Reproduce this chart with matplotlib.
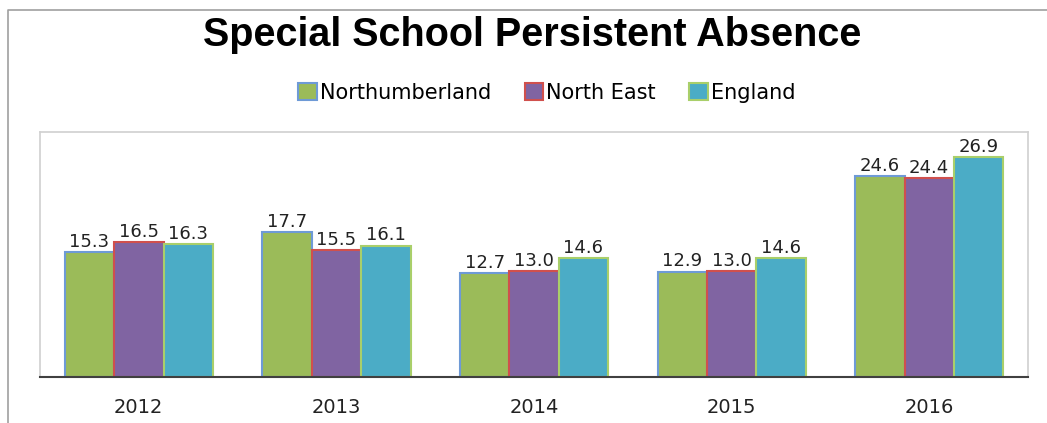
import matplotlib
matplotlib.use("Agg")
import matplotlib.pyplot as plt
import numpy as np
from matplotlib.patches import Patch
from matplotlib.lines import Line2D

# persistent absence rates (%) by year
years = ["2012", "2013", "2014", "2015", "2016"]
northumberland = [15.3, 17.7, 12.7, 12.9, 24.6]
north_east = [16.5, 15.5, 13.0, 13.0, 24.4]
england = [16.3, 16.1, 14.6, 14.6, 26.9]
series_names = ["Northumberland", "North East", "England"]

fills = ["#9BBB59", "#8064A2", "#4BACC6"]
edges = ["#6E9AD6", "#D0504D", "#A9CF6A"]

plt.rcParams["font.family"] = ["DejaVu Sans"]

W, H = 1047, 423
fig = plt.figure(figsize=(W / 100, H / 100), dpi=100)
ax = fig.add_axes([40 / W, 1 - 377 / H, (1028 - 40) / W, (377 - 132) / H])

x = np.arange(len(years))
width = 0.25
for i, (vals, fc, ec) in enumerate(zip([northumberland, north_east, england], fills, edges)):
    pos = x + (i - 1) * width
    bars = ax.bar(pos, vals, width, color=fc, edgecolor=ec, linewidth=1.5, zorder=2)
    for b, v in zip(bars, vals):
        ax.text(b.get_x() + b.get_width() / 2, v + 0.15, f"{v:.1f}",
                ha="center", va="bottom", fontsize=13, color="#222222")

ax.set_xlim(-0.5, len(years) - 0.5)
ax.set_ylim(0, 30)
ax.set_yticks([])
ax.set_xticks(x)
ax.set_xticklabels(years, fontsize=14, color="#222222")
ax.tick_params(axis="x", length=0, pad=15)
for side in ["left", "top", "right"]:
    ax.spines[side].set_color("#D0D0D0")
    ax.spines[side].set_linewidth(1.2)
ax.spines["bottom"].set_color("#404040")
ax.spines["bottom"].set_linewidth(1.5)
ax.spines["bottom"].set_zorder(3)

fig.text(532 / W, 1 - 35 / H, "Special School Persistent Absence",
         ha="center", va="center", fontsize=28.5, fontweight="bold",
         family=["Liberation Sans"], color="#000000")

handles = [Patch(facecolor=fc, edgecolor=ec, linewidth=1.5) for fc, ec in zip(fills, edges)]
fig.legend(handles, series_names, loc="center", bbox_to_anchor=(547 / W, 1 - 93 / H),
           ncol=3, frameon=False, fontsize=15, handlelength=0.9, handleheight=0.9,
           handletextpad=0.15, columnspacing=1.6)

# outer chart frame (top and left edges)
fig.add_artist(Line2D([8, 8, W], [0, H - 10, H - 10], transform=None,
                      color="#A0A0A0", linewidth=1.2))

fig.savefig("out.png", dpi=100)
